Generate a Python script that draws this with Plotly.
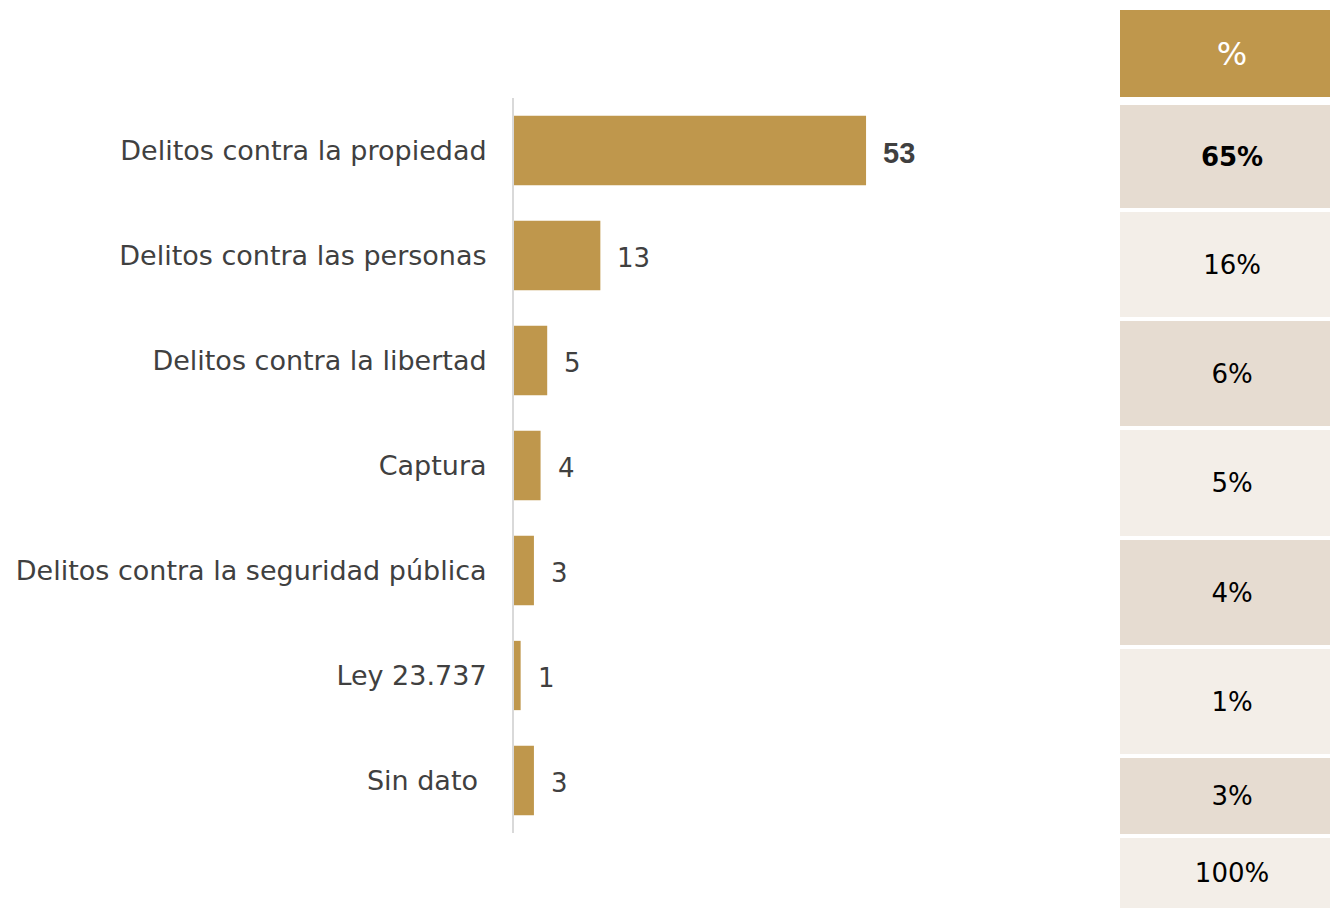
import plotly.graph_objects as go

categories = [
    "Delitos contra la propiedad",
    "Delitos contra las personas",
    "Delitos contra la libertad",
    "Captura",
    "Delitos contra la seguridad pública",
    "Ley 23.737",
    "Sin dato ",
]
values = [53, 13, 5, 4, 3, 1, 3]
table_header = "%"
table_pct = [65, 16, 6, 5, 4, 1, 3, 100]

GOLD = "#BF974C"
DARK = "#E6DCD1"
LIGHT = "#F3EEE8"
TXT = "#404040"
FONT = "DejaVu Sans"

# table layout (pixels): top offset, row heights, gaps between rows
TABLE_TOP = 10
ROW_H = [87, 103, 105, 105, 106, 105, 105, 76, 70]
ROW_GAP = [8, 4, 4, 4, 4, 4, 4, 4]
TABLE_SPAN = 1.067  # table continues slightly past the right edge

fig = go.Figure()
fig.add_trace(go.Bar(
    x=values, y=categories, orientation="h",
    marker=dict(color=GOLD, line=dict(width=0)),
    width=0.66, hoverinfo="skip",
))

for i, (c, v) in enumerate(zip(categories, values)):
    fig.add_annotation(
        x=v, y=c, xref="x", yref="y",
        text=f"<b>{v}</b>" if i == 0 else str(v),
        showarrow=False, xanchor="left", xshift=15, yshift=-2,
        font=dict(family="Liberation Sans" if i == 0 else FONT,
                  size=29 if i == 0 else 26, color=TXT),
    )

# table rows as full-width bars on a second axis pair
row_labels = [table_header] + [f"<b>{p}%</b>" if i == 0 else f"{p}%" for i, p in enumerate(table_pct)]
row_fill = [GOLD] + [DARK if i % 2 == 0 else LIGHT for i in range(len(table_pct))]
row_font = ["white"] + ["black"] * len(table_pct)
row_size = [32] + [26] * len(table_pct)
row_center, row_width = [], []
top = TABLE_TOP
for i, h in enumerate(ROW_H):
    row_center.append(top + h / 2)
    row_width.append(h)
    top += h + (ROW_GAP[i] if i < len(ROW_GAP) else 0)

fig.add_trace(go.Bar(
    x=[TABLE_SPAN] * len(row_labels), y=row_center, orientation="h",
    xaxis="x2", yaxis="y2",
    marker=dict(color=row_fill, line=dict(width=0)),
    width=row_width,
    text=row_labels, textposition="inside", insidetextanchor="middle",
    textangle=0, constraintext="none",
    textfont=dict(family=FONT, size=row_size, color=row_font),
    hoverinfo="skip",
))

H = 909
fig.update_layout(
    width=1330, height=H,
    margin=dict(l=0, r=0, t=0, b=0),
    paper_bgcolor="white", plot_bgcolor="white",
    showlegend=False,
    xaxis=dict(domain=[514 / 1330, 0.8], range=[0, 82.8], visible=False, fixedrange=True),
    yaxis=dict(domain=[76 / H, (H - 98) / H], autorange="reversed",
               showline=True, linecolor="#D9D9D9", linewidth=2,
               ticks="", ticklabelstandoff=20, showgrid=False,
               tickfont=dict(family=FONT, size=27, color=TXT)),
    xaxis2=dict(domain=[1120 / 1330, 1.0], range=[0, 1], visible=False, anchor="y2"),
    yaxis2=dict(domain=[0, 1], range=[H, 0], visible=False, anchor="x2"),
)

fig.write_html("out.html", config={"displayModeBar": False},
               post_script="document.body.style.margin='0';document.body.style.overflow='hidden';")
